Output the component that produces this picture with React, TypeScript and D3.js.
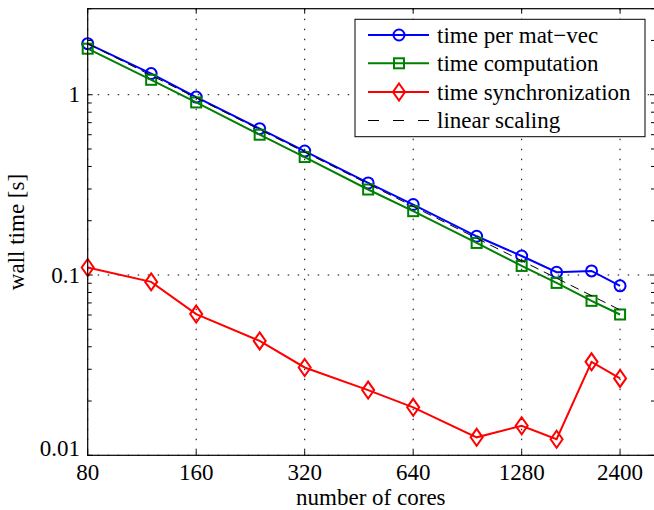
import React from 'react';
import * as d3 from 'd3';

const cores = [80, 120, 160, 240, 320, 480, 640, 960, 1280, 1600, 2000, 2400];
const timeMatVec = [1.92, 1.31, 0.97, 0.648, 0.487, 0.324, 0.246, 0.164, 0.1275, 0.1036, 0.1054, 0.0871];
const timeComputation = [1.8, 1.21, 0.906, 0.6, 0.451, 0.298, 0.226, 0.1506, 0.1123, 0.0904, 0.0719, 0.0604];
const timeSync = [0.11, 0.0916, 0.0607, 0.0431, 0.0307, 0.023, 0.01845, 0.01258, 0.01459, 0.01227, 0.033, 0.0267];
const linearCores = [80, 2400];
const linearTime = [1.92, 0.064];

const xTicks = [80, 160, 320, 640, 1280, 2400];
const yTicks = [0.01, 0.1, 1];
const yTickLabels = ['0.01', '0.1', '1'];
const yMinor = [0.02, 0.03, 0.04, 0.05, 0.06, 0.07, 0.08, 0.09, 0.2, 0.3, 0.4, 0.5, 0.6, 0.7, 0.8, 0.9, 2, 3];

const legendLabels = ['time per mat\u2212vec', 'time computation', 'time synchronization', 'linear scaling'];

const W = 654;
const H = 510;
const left = 87.7;
const right = 655;
const top = 8.7;
const bottom = 455.3;
const FONT = "'Liberation Serif', 'Times New Roman', Times, serif";

function marker(kind: string, x: number, y: number, color: string, key: any) {
  if (kind === 'circle') {
    return <circle key={key} cx={x} cy={y} r={5.5} fill="none" stroke={color} strokeWidth={2} />;
  }
  if (kind === 'square') {
    return <rect key={key} x={x - 5} y={y - 5} width={10} height={10} fill="none" stroke={color} strokeWidth={2} />;
  }
  return (
    <path key={key} d={`M${x},${y - 8.5}L${x + 6},${y}L${x},${y + 8.5}L${x - 6},${y}Z`}
      fill="none" stroke={color} strokeWidth={2} />
  );
}

export default function App() {
  const x = d3.scaleLog().domain([80, 3000]).range([left, right]);
  const y = d3.scaleLog().domain([0.01, 3]).range([bottom, top]);

  const line = d3.line<[number, number]>()
    .x(d => x(d[0]))
    .y(d => y(d[1]));

  const series = [
    { vals: timeMatVec, color: '#0000ff', kind: 'circle' },
    { vals: timeComputation, color: '#008000', kind: 'square' },
    { vals: timeSync, color: '#ff0000', kind: 'diamond' },
  ];

  const lg = { x0: 355, y0: 19.3, x1: 645, y1: 136.7 };
  const rowY = [35, 63.3, 92, 120.5];

  return (
    <svg width={W} height={H}
      style={{ position: 'absolute', left: 0, top: 0, background: '#fff', fontFamily: FONT, fontSize: 23 }}>
      <rect x={0} y={0} width={W} height={H} fill="#fff" />
      {/* grid */}
      {xTicks.map(t => (
        <line key={'gx' + t} x1={x(t)} x2={x(t)} y1={top} y2={bottom}
          stroke="#000" strokeWidth={1} strokeDasharray="1.5 8.5" />
      ))}
      {yTicks.map(t => (
        <line key={'gy' + t} x1={left} x2={right} y1={y(t)} y2={y(t)}
          stroke="#000" strokeWidth={1} strokeDasharray="1.5 8.5" />
      ))}

      {/* data */}
      {series.map((s, i) => {
        const pts = cores.map((c, j) => [c, s.vals[j]] as [number, number]);
        return (
          <g key={'s' + i}>
            <path d={line(pts) || ''} fill="none" stroke={s.color} strokeWidth={2} />
            {pts.map((p, j) => marker(s.kind, x(p[0]), y(p[1]), s.color, j))}
          </g>
        );
      })}
      <path d={line(linearCores.map((c, j) => [c, linearTime[j]] as [number, number])) || ''}
        fill="none" stroke="#000" strokeWidth={1} strokeDasharray="9 6" />

      {/* axes frame */}
      <rect x={left} y={top} width={right - left} height={bottom - top} fill="none" stroke="#000" strokeWidth={1.2} />
      {xTicks.map(t => (
        <g key={'tx' + t}>
          <line x1={x(t)} x2={x(t)} y1={bottom} y2={bottom - 5} stroke="#000" />
          <line x1={x(t)} x2={x(t)} y1={top} y2={top + 5} stroke="#000" />
          <text x={x(t)} y={480} textAnchor="middle">{t}</text>
        </g>
      ))}
      {yTicks.map((t, i) => (
        <g key={'ty' + t}>
          <line x1={left} x2={left + 5} y1={y(t)} y2={y(t)} stroke="#000" />
          <line x1={right} x2={right - 5} y1={y(t)} y2={y(t)} stroke="#000" />
          <text x={80} y={i === 0 ? y(t) - 7 : y(t)} textAnchor="end" dominantBaseline="central">{yTickLabels[i]}</text>
        </g>
      ))}
      {yMinor.map(t => (
        <g key={'my' + t}>
          <line x1={left} x2={left + 4} y1={y(t)} y2={y(t)} stroke="#000" />
          <line x1={right} x2={right - 4} y1={y(t)} y2={y(t)} stroke="#000" />
        </g>
      ))}

      <text x={(left + right) / 2 - 0.5} y={505} textAnchor="middle">number of cores</text>
      <text transform={`translate(24,${(top + bottom) / 2}) rotate(-90)`} textAnchor="middle">wall time [s]</text>

      {/* legend */}
      <rect x={lg.x0} y={lg.y0} width={lg.x1 - lg.x0} height={lg.y1 - lg.y0} fill="#fff" stroke="#000" strokeWidth={1} />
      {series.map((s, i) => (
        <g key={'l' + i}>
          <line x1={368} x2={429} y1={rowY[i]} y2={rowY[i]} stroke={s.color} strokeWidth={2} />
          {marker(s.kind, 399, rowY[i], s.color, 'm')}
        </g>
      ))}
      <line x1={368} x2={429} y1={rowY[3]} y2={rowY[3]} stroke="#000" strokeWidth={1} strokeDasharray="11 14" />
      {legendLabels.map((l, i) => (
        <text key={'lt' + i} x={437} y={rowY[i]} dominantBaseline="central">{l}</text>
      ))}
    </svg>
  );
}
